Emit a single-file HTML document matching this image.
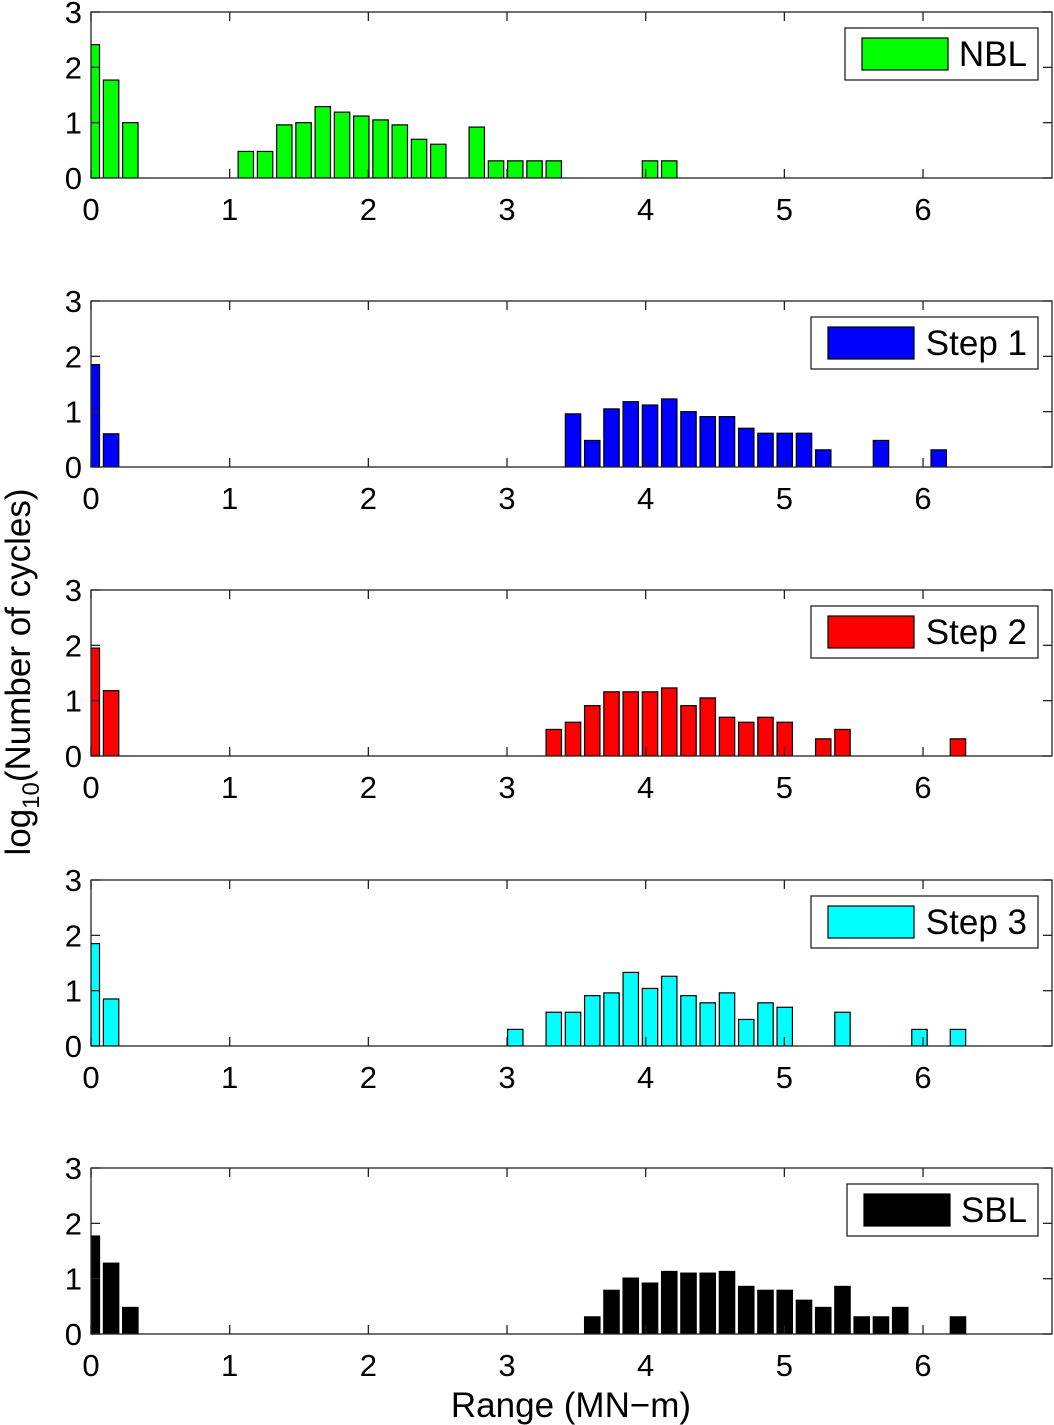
<!DOCTYPE html>
<html><head><meta charset="utf-8"><style>
body{margin:0;background:#fff;}
svg{display:block;font-family:"Liberation Sans",sans-serif;}
</style></head><body>
<svg id="chart" width="1054" height="1425" viewBox="0 0 1054 1425" xmlns="http://www.w3.org/2000/svg">
<text transform="translate(30,672) rotate(-90)" text-anchor="middle" font-size="35">log<tspan font-size="24" dy="9">10</tspan><tspan dy="-9">(Number of cycles)</tspan></text>
<text x="571" y="1417" text-anchor="middle" font-size="35">Range (MN−m)</text>
</svg>
<script>
// bin index (k) and log10 counts per series
const nblBins = [0,1,2,8,9,10,11,12,13,14,15,16,17,18,20,21,22,23,24,29,30];
const nblVals = [2.41,1.77,1.0,0.48,0.48,0.96,1.0,1.29,1.19,1.12,1.05,0.96,0.70,0.61,0.92,0.31,0.31,0.31,0.31,0.31,0.31];
const s1Bins = [0,1,25,26,27,28,29,30,31,32,33,34,35,36,37,38,41,44];
const s1Vals = [1.85,0.6,0.96,0.48,1.05,1.18,1.12,1.23,1.0,0.91,0.91,0.70,0.61,0.61,0.61,0.31,0.48,0.31];
const s2Bins = [0,1,24,25,26,27,28,29,30,31,32,33,34,35,36,38,39,45];
const s2Vals = [1.95,1.18,0.48,0.61,0.91,1.16,1.16,1.16,1.23,0.91,1.05,0.70,0.61,0.70,0.61,0.31,0.48,0.31];
const s3Bins = [0,1,22,24,25,26,27,28,29,30,31,32,33,34,35,36,39,43,45];
const s3Vals = [1.85,0.85,0.30,0.61,0.61,0.91,0.96,1.33,1.04,1.26,0.91,0.78,0.96,0.48,0.78,0.70,0.61,0.30,0.30];
const sblBins = [0,1,2,26,27,28,29,30,31,32,33,34,35,36,37,38,39,40,41,42,45];
const sblVals = [1.77,1.28,0.48,0.31,0.79,1.01,0.92,1.13,1.10,1.10,1.13,0.86,0.79,0.79,0.61,0.48,0.86,0.31,0.31,0.48,0.31];
const seriesNames = ["NBL","Step 1","Step 2","Step 3","SBL"];
const seriesColors = ["#00ff00","#0000ff","#ff0000","#00ffff","#000000"];
const xTicks = [0,1,2,3,4,5,6];
const yTicks = [0,1,2,3];
const binWidth = 0.1388, binStart = 0.006;

const NS="http://www.w3.org/2000/svg";
const svg=document.getElementById('chart');
const X0=91, X1=1052, XMAX=(1052-91)/138.67, H=166;
const tops=[12,301,590,880,1168];
const legends=[[845,193],[811,227],[811,227],[811,227],[847,191]];
const bins=[nblBins,s1Bins,s2Bins,s3Bins,sblBins];
const vals=[nblVals,s1Vals,s2Vals,s3Vals,sblVals];
function mk(t,a,p){const e=document.createElementNS(NS,t);for(const k in a)e.setAttribute(k,a[k]);(p||svg).appendChild(e);return e;}
const xs=v=>X0+v/XMAX*(X1-X0);
seriesNames.forEach((name,i)=>{
  const top=tops[i], ys=v=>top+H-v/3*H;
  const g=mk('g',{});
  
  
  mk('clipPath',{id:'c'+i},g);
  mk('rect',{x:X0,y:top,width:X1-X0,height:H},document.getElementById('c'+i));
  const bg=mk('g',{'clip-path':'url(#c'+i+')'},g);
  bins[i].forEach((k,j)=>{
    const c=binStart+k*binWidth, w=binWidth*0.8;
    const r=mk('rect',{x:xs(c-w/2),y:ys(vals[i][j]),width:xs(c+w/2)-xs(c-w/2),height:ys(0)-ys(vals[i][j]),fill:seriesColors[i],stroke:'#000','stroke-width':1.2},bg);
    
    
  });
  mk('rect',{x:X0,y:top,width:X1-X0,height:H,fill:'none',stroke:'#222','stroke-width':1.3},g);
  xTicks.forEach(t=>{
    const x=xs(t);
    mk('line',{x1:x,y1:top+H,x2:x,y2:top+H-9,stroke:'#222','stroke-width':1.3},g);
    mk('line',{x1:x,y1:top,x2:x,y2:top+9,stroke:'#222','stroke-width':1.3},g);
    const l=mk('text',{x:x,y:top+H+42,'text-anchor':'middle','font-size':31},g);
    l.textContent=t;
    
    
  });
  yTicks.forEach(t=>{
    const y=ys(t);
    mk('line',{x1:X0,y1:y,x2:X0+9,y2:y,stroke:'#222','stroke-width':1.3},g);
    mk('line',{x1:X1,y1:y,x2:X1-9,y2:y,stroke:'#222','stroke-width':1.3},g);
    const l=mk('text',{x:82,y:y+11,'text-anchor':'end','font-size':31},g);
    l.textContent=t;
    
    
  });
  const [lx,lw]=legends[i], ly=top+16;
  const lg=mk('g',{},g);
  
  
  mk('rect',{x:lx,y:ly,width:lw,height:52,fill:'#fff',stroke:'#222','stroke-width':1.3},lg);
  mk('rect',{x:lx+17,y:ly+10,width:86,height:32,fill:seriesColors[i],stroke:'#000','stroke-width':1.2},lg);
  const lt=mk('text',{x:lx+lw-11,y:ly+38,'text-anchor':'end','font-size':35},lg);
  lt.textContent=name;
  
  
});
</script>
</body></html>
